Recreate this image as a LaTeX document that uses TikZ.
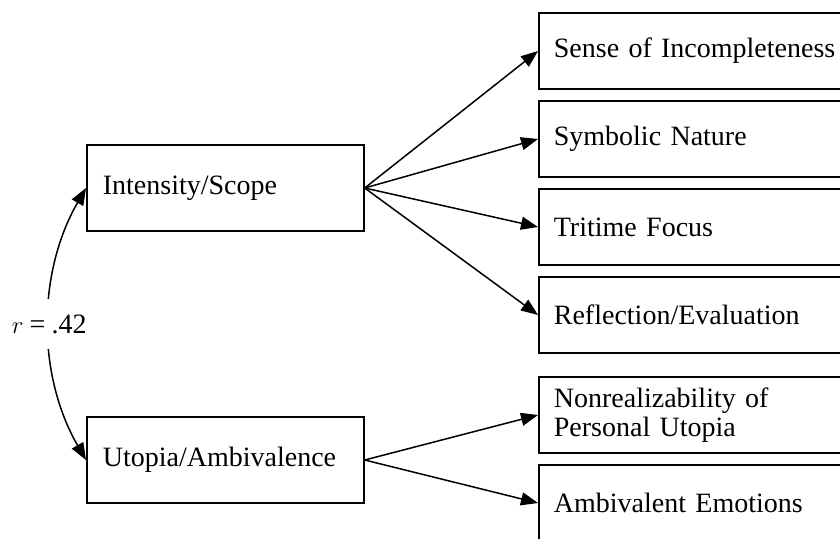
\documentclass[tikz,border=0pt]{standalone}
\usepackage{fontspec}
\setmainfont[WordSpace={0.6,0.3,0.3}]{Liberation Serif}
\usetikzlibrary{arrows.meta}
\begin{document}
\begin{tikzpicture}[x=1pt,y=-1pt,
  txt/.style={font=\fontsize{28}{29}\selectfont},
  rbox/.style={txt,draw=black,line width=1.7pt,rectangle,anchor=west,align=left,
    inner xsep=15pt,inner ysep=0pt,minimum height=76pt,text width=320pt},
  lbox/.style={txt,draw=black,line width=1.7pt,rectangle,anchor=west,align=left,
    inner xsep=16pt,inner ysep=0pt,minimum height=86pt,text width=245pt},
  arr/.style={line width=1.5pt,-{Triangle[length=17pt,width=13pt]}},
  darr/.style={line width=1.5pt,{Triangle[length=17pt,width=13pt]}-{Triangle[length=17pt,width=13pt]}}]
\useasboundingbox (0,0) rectangle (840,538);
\clip (0,0) rectangle (840,538);
\fill[white] (0,0) rectangle (840,538);

\node[lbox] (is) at (86,188) {Intensity/Scope};
\node[lbox] (ua) at (86,460) {Utopia/Ambivalence};

\node[rbox] (si) at (538,51) {Sense of Incompleteness};
\node[rbox] (sn) at (538,139) {Symbolic Nature};
\node[rbox] (tf) at (538,227) {Tritime Focus};
\node[rbox] (re) at (538,315) {Reflection/Evaluation};
\node[rbox] (np) at (538,415) {Nonrealizability of\\Personal Utopia};
\node[rbox] (ae) at (538,503) {Ambivalent Emotions};

\draw[arr] (is.east) -- (si.west);
\draw[arr] (is.east) -- (sn.west);
\draw[arr] (is.east) -- (tf.west);
\draw[arr] (is.east) -- (re.west);
\draw[arr] (ua.east) -- (np.west);
\draw[arr] (ua.east) -- (ae.west);

\draw[darr] (is.west) .. controls (37,273) and (37,375) .. (ua.west)
  node[pos=0.5,fill=white,txt,inner xsep=2pt,minimum height=50pt] (r) {$r$\hspace{0.22em}=\hspace{0.22em}.42};
\end{tikzpicture}
\end{document}
